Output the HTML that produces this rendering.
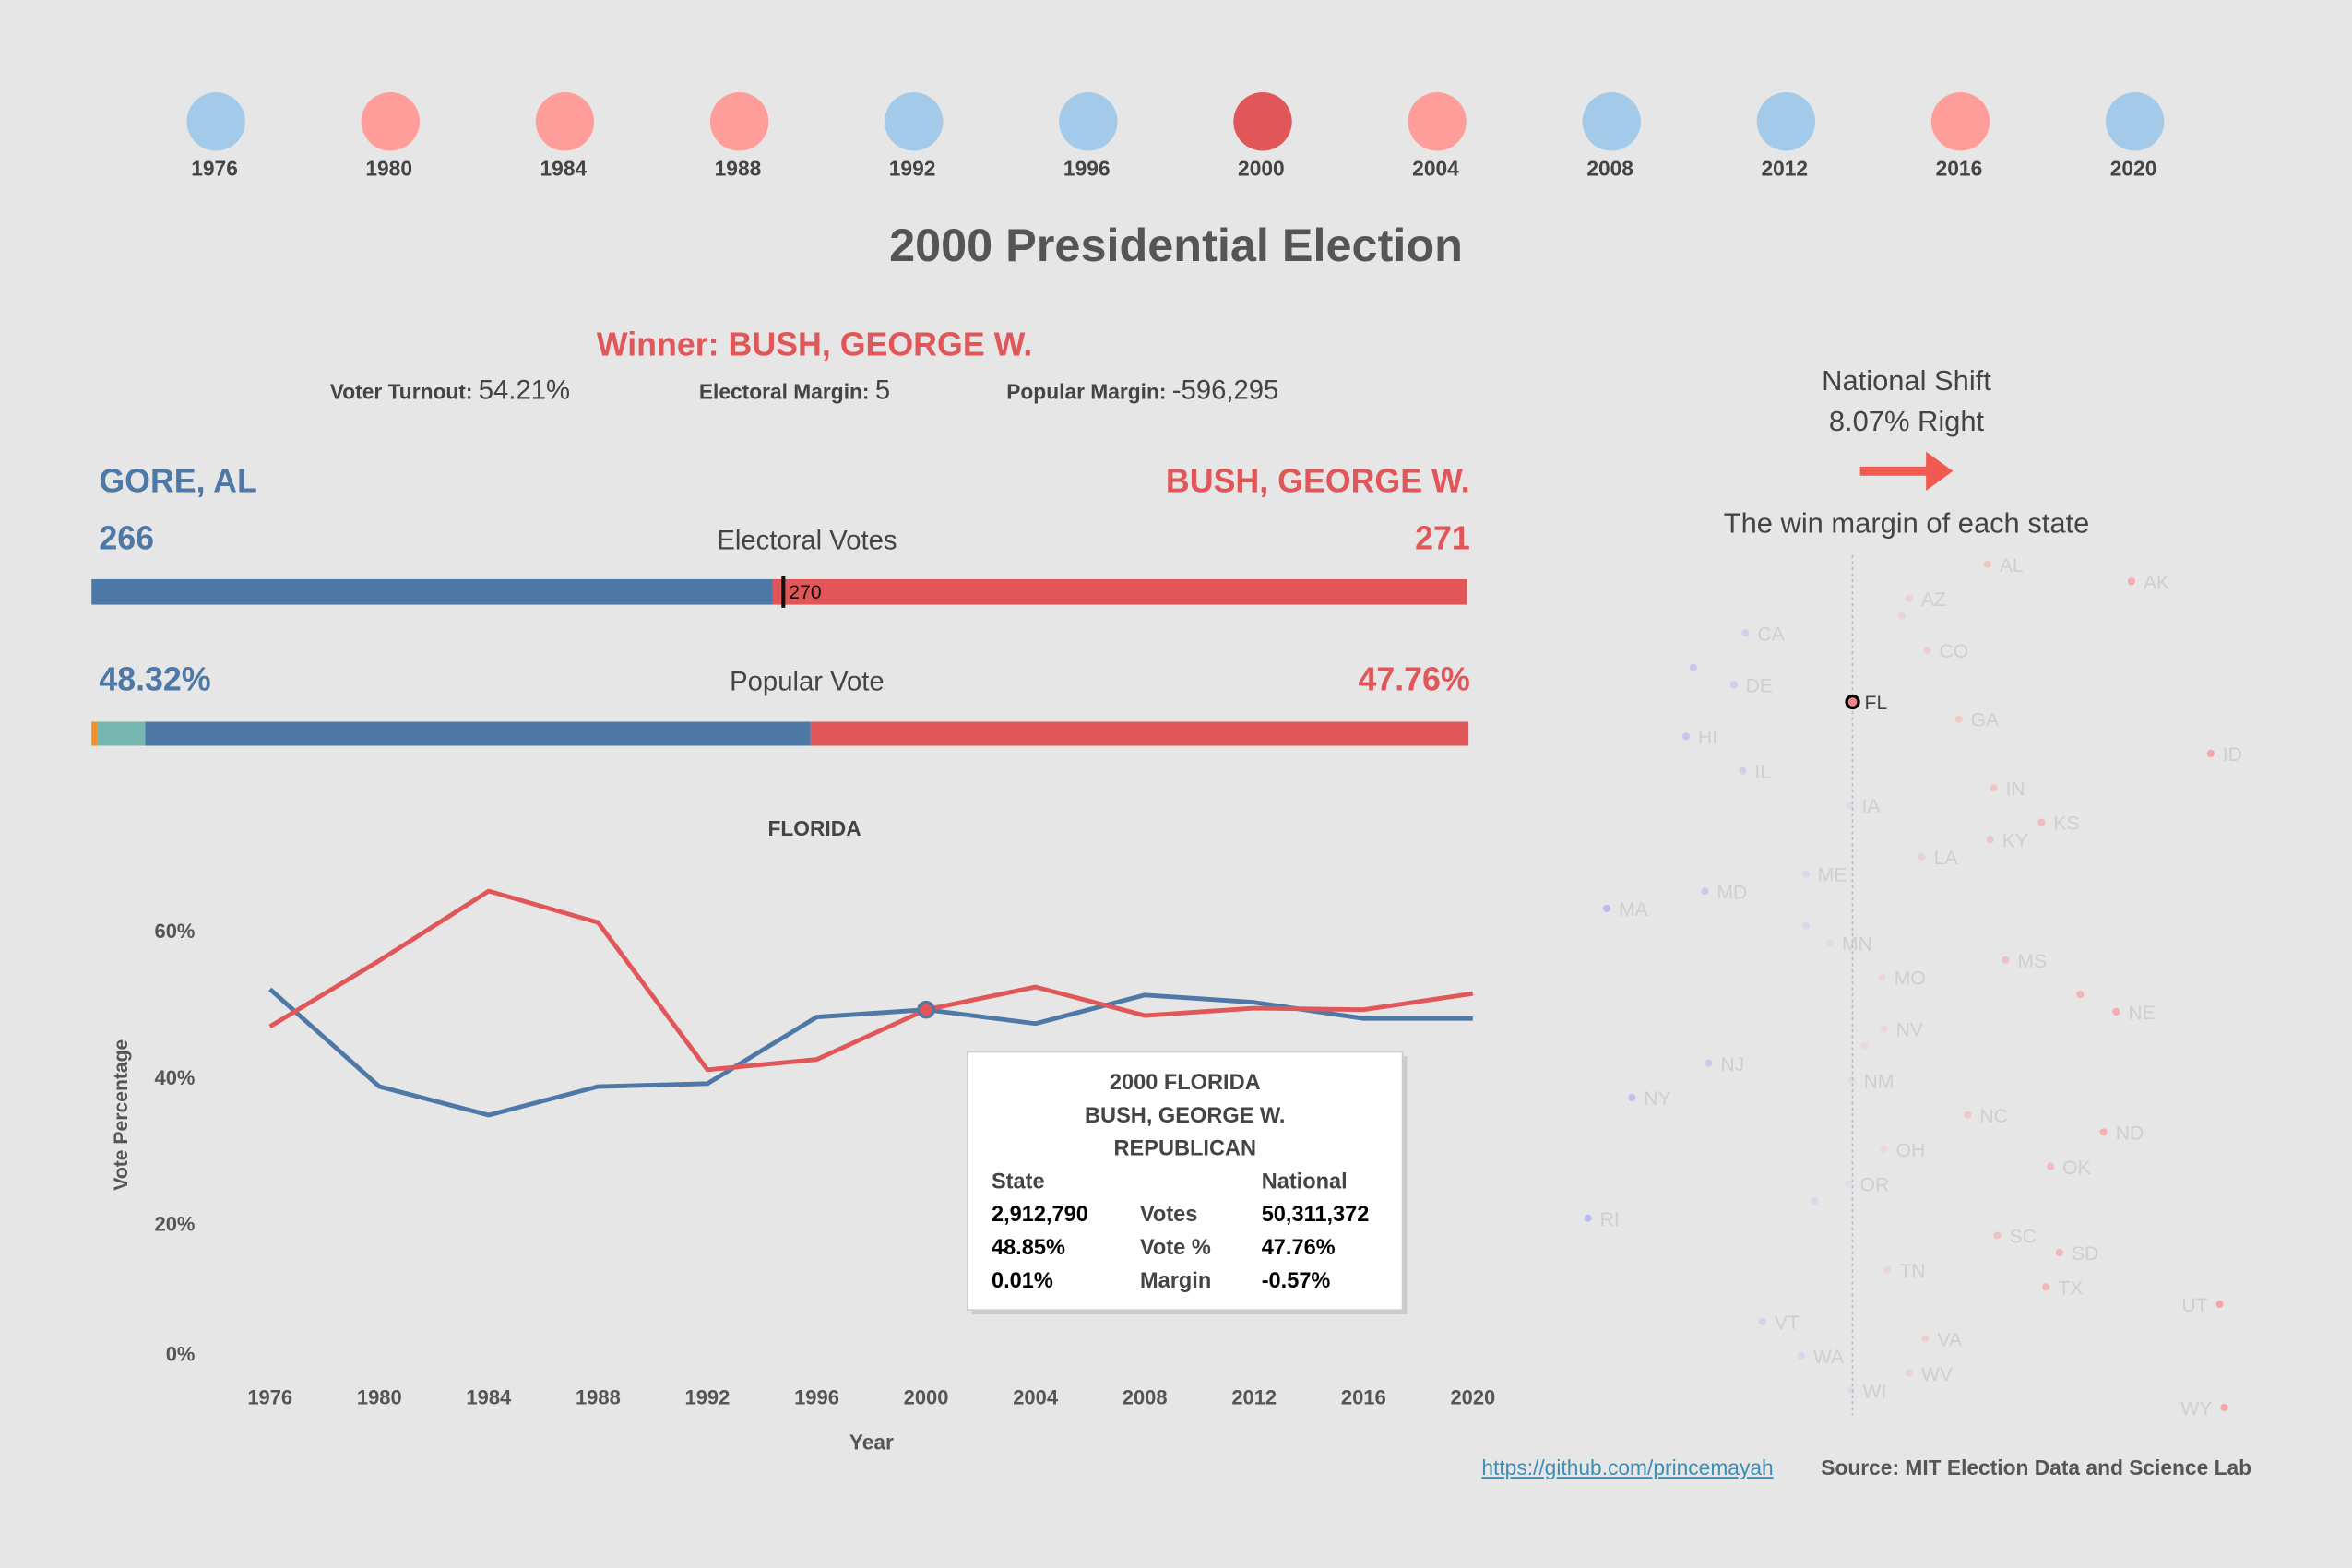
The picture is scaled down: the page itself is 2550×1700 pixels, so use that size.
<!DOCTYPE html>
<html><head><meta charset="utf-8">
<style>
html,body{margin:0;padding:0;background:#e6e6e6;overflow:hidden;}
#root{position:absolute;left:0;top:0;width:1568px;height:1045px;transform:scale(1.62628,1.62679);transform-origin:0 0;font-family:"Liberation Sans",sans-serif;color:#555;}
</style></head><body>
<div id="root">
<svg id="top" width="1568" height="1045" style="position:absolute;left:0;top:0"></svg>
</div>
<script>
const years=[1976,1980,1984,1988,1992,1996,2000,2004,2008,2012,2016,2020];
const winners=['D','R','R','R','D','D','R','R','D','D','R','D'];
const repVals=[46.9,55.9,65.4,61.1,41.0,42.4,49.2,52.3,48.4,49.4,49.2,51.4];
const demVals=[52.0,38.7,34.8,38.7,39.1,48.2,49.2,47.3,51.2,50.2,48.0,48.0];
const yTicks=[0,20,40,60];
const stateNames=['AL','AK','AZ','AR','CA','CO','CT','DE','FL','GA','HI','ID','IL','IN','IA','KS','KY','LA','ME','MD','MA','MI','MN','MS','MO','MT','NE','NV','NH','NJ','NM','NY','NC','ND','OH','OK','OR','PA','RI','SC','SD','TN','TX','UT','VT','VA','WA','WV','WI','WY'];
const stateMargins=[15,31,6.3,5.5,-11.9,8.3,-17.7,-13.2,0.01,11.8,-18.5,39.8,-12.2,15.7,-0.3,21,15.3,7.7,-5.2,-16.4,-27.3,-5.2,-2.5,17,3.3,25.3,29.3,3.5,1.3,-16,-0.1,-24.5,12.8,27.9,3.5,22,-0.5,-4.2,-29.4,16.1,23,3.9,21.5,40.8,-10,8.1,-5.7,6.3,-0.2,41.3];
const hiddenLabels=['AR','CT','MI','MT','NH','PA'];

const NS='http://www.w3.org/2000/svg';
const svg=document.getElementById('top');
function mk(tag,attrs,parent){const e=document.createElementNS(NS,tag);for(const k in attrs)e.setAttribute(k,attrs[k]);(parent||svg).appendChild(e);return e;}
function txt(s,x,y,size,fill,anchor,weight,name,parent){const e=mk('text',{x:x,y:y,'font-size':size,fill:fill,'text-anchor':anchor||'start','font-weight':weight||'normal','font-family':'Liberation Sans, sans-serif'},parent);e.textContent=s;


return e;}

years.forEach((y,i)=>{const cx=144+i*116.3;
const c=mk('circle',{cx:cx,cy:81,r:19.5,fill:y===2000?'#e15759':(winners[i]==='D'?'#a3cbe9':'#fe9d9a')});


txt(String(y),cx-1,117,14,'#444','middle','bold','year-label-'+y);});

txt('2000 Presidential Election',784,174,31,'#555','middle','bold','page-title');
txt('Winner: BUSH, GEORGE W.',543,237,22,'#e15759','middle','bold','winner-title');
const st=mk('text',{y:266,'font-family':'Liberation Sans, sans-serif',fill:'#444'});


st.innerHTML='<tspan x="220" font-size="14" font-weight="bold">Voter Turnout: </tspan><tspan font-size="18">54.21%</tspan><tspan x="466" font-size="14" font-weight="bold">Electoral Margin: </tspan><tspan font-size="18">5</tspan><tspan x="671" font-size="14" font-weight="bold">Popular Margin: </tspan><tspan font-size="18">-596,295</tspan>';

txt('GORE, AL',66,328,22,'#4e79a7','start','bold','dem-candidate');
txt('BUSH, GEORGE W.',980,328,22,'#e15759','end','bold','rep-candidate');
txt('266',66,366,22,'#4e79a7','start','bold','dem-electoral');
txt('271',980,366,22,'#e15759','end','bold','rep-electoral');
txt('Electoral Votes',538,366,18,'#444','middle','normal','electoral-title');
const eTot=537,bx0=61,bx1=978,bw=bx1-bx0;
let r=mk('rect',{x:bx0,y:386,width:bw*266/eTot,height:17,fill:'#4e79a7'});
r=mk('rect',{x:bx0+bw*266/eTot,y:386,width:bw*271/eTot,height:17,fill:'#e15759'});
r=mk('rect',{x:521,y:384,width:2.5,height:21,fill:'#111'});
txt('270',526,399,13,'#111','start','normal','marker-label');

txt('48.32%',66,460,22,'#4e79a7','start','bold','dem-popular');
txt('47.76%',980,460,22,'#e15759','end','bold','rep-popular');
txt('Popular Vote',538,460,18,'#444','middle','normal','popular-title');
const pw=979-61;
const pSegs=[[0.4,'#f28e2b','other'],[3.5,'#76b7b2','third-party'],[48.32,'#4e79a7','dem'],[47.78,'#e15759','rep']];
let px=61;pSegs.forEach(s=>{const w=pw*s[0]/100;const e=mk('rect',{x:px,y:481,width:w,height:16,fill:s[1]});

px+=w;});

txt('FLORIDA',543,557,14,'#444','middle','bold','line-chart-title');
const xS=y=>180+(y-1976)/4*72.9;
const yS=v=>913-v*4.88;
yTicks.forEach(t=>txt(t+'%',130,(t===0?902:yS(t))+5,13.5,'#555','end','bold','y-tick-'+t));
years.forEach(y=>txt(String(y),xS(y),936,13.5,'#555','middle','bold','x-tick-'+y));
txt('Year',581,966,14,'#555','middle','bold','x-axis-title');
const yt=txt('Vote Percentage',0,0,13,'#555','middle','bold','y-axis-title');yt.setAttribute('transform','translate(85,743) rotate(-90)');
function line(vals,col,name){const p=mk('polyline',{points:vals.map((v,i)=>xS(years[i])+','+yS(v)).join(' '),fill:'none',stroke:col,'stroke-width':3,'stroke-linejoin':'round'});

}
line(demVals,'#4e79a7','dem-line');
line(repVals,'#e15759','rep-line');
const hp=mk('circle',{cx:xS(2000),cy:yS(repVals[6]),r:5,fill:'#e15759',stroke:'#4e79a7','stroke-width':2});



const tg=mk('g',{});
mk('rect',{x:648,y:704,width:290,height:172,fill:'#bbb',opacity:0.6},tg);
mk('rect',{x:645,y:701,width:290,height:172,fill:'#fff',stroke:'#ccc'},tg);
txt('2000 FLORIDA',790,726,14.5,'#444','middle','bold','tooltip-title',tg);
txt('BUSH, GEORGE W.',790,748,14.5,'#444','middle','bold','tooltip-candidate',tg);
txt('REPUBLICAN',790,770,14.5,'#444','middle','bold','tooltip-party',tg);
const rows=[['State','','National','#444'],['2,912,790','Votes','50,311,372','#000'],['48.85%','Vote %','47.76%','#000'],['0.01%','Margin','-0.57%','#000']];
rows.forEach((rw,i)=>{const y=792+i*22;txt(rw[0],661,y,14.5,rw[3],'start','bold','tooltip-state-'+i,tg);txt(rw[1],760,y,14.5,'#444','start','bold','tooltip-label-'+i,tg);txt(rw[2],841,y,14.5,rw[3],'start','bold','tooltip-national-'+i,tg);});

txt('National Shift',1271,260,19,'#444','middle','normal','national-shift-title');
txt('8.07% Right',1271,287,19,'#444','middle','normal','national-shift-value');
const ar=mk('path',{d:'M1240 311 L1284 311 L1284 301 L1302 314 L1284 327 L1284 317 L1240 317 Z',fill:'#f05a50'});


txt('The win margin of each state',1271,355,19,'#444','middle','normal','scatter-title');
const cxS=m=>1235+m*6;
const cyS=i=>376+i*11.47;
const zl=mk('line',{x1:1235,y1:370,x2:1235,y2:943,stroke:'#bbb','stroke-dasharray':'2,2','stroke-width':1});


stateNames.forEach((s,i)=>{const m=stateMargins[i];const x=cxS(m),y=cyS(i);
const a=Math.min(1,0.15+Math.abs(m)/40);
if(s==='FL'){const d=mk('circle',{cx:x,cy:y,r:4,fill:'#e88',stroke:'#000','stroke-width':2});


txt(s,x+8,y+5,13,'#444','start','normal','state-label-'+s);return;}
const d=mk('circle',{cx:x,cy:y,r:2.5,fill:m<0?'#b4b4f4':'#f6a6a6','fill-opacity':a});


if(hiddenLabels.indexOf(s)<0){const left=(s==='UT'||s==='WY');
txt(s,left?x-8:x+8,y+5,13,'#cfcfcf',left?'end':'start','normal','state-label-'+s);}});

const lk=txt('https://github.com/princemayah',1085,983,14,'#3a8fb7','middle','normal','github-link');

lk.setAttribute('text-decoration','underline');
txt('Source: MIT Election Data and Science Lab',1214,983,14,'#555','start','bold','source-note');
</script>
</body></html>
